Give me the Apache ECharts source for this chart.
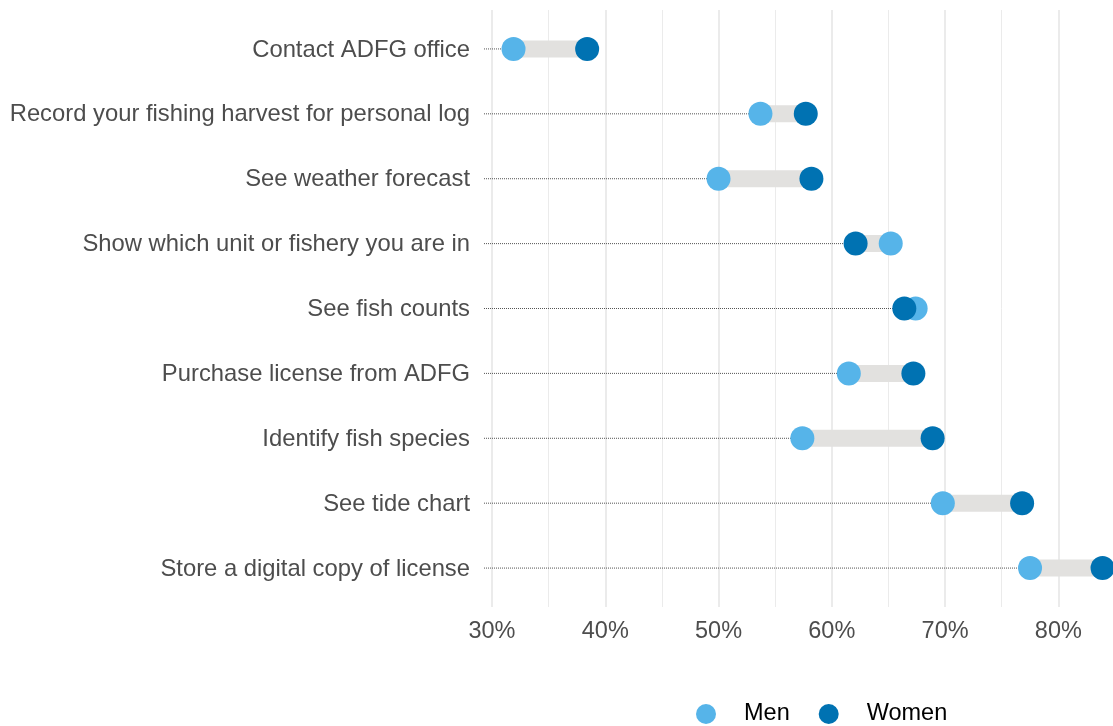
<!DOCTYPE html>
<html>
<head>
<meta charset="utf-8">
<title>App feature interest by gender</title>
<script src="https://cdn.jsdelivr.net/npm/echarts@6/dist/echarts.min.js"></script>
<style>
  html, body { margin: 0; padding: 0; background: #ffffff; }
  #chart { width: 1113px; height: 726px; }
</style>
</head>
<body>
<div id="chart"></div>
<script>
// Features, top to bottom
const categories = [
  'Contact ADFG office',
  'Record your fishing harvest for personal log',
  'See weather forecast',
  'Show which unit or fishery you are in',
  'See fish counts',
  'Purchase license from ADFG',
  'Identify fish species',
  'See tide chart',
  'Store a digital copy of license'
];

// Share of respondents interested in each feature (%)
const men   = [31.9, 53.7, 50.0, 65.2, 67.4, 61.5, 57.4, 69.8, 77.5];
const women = [38.4, 57.7, 58.2, 62.1, 66.4, 67.2, 68.9, 76.8, 83.9];

// X axis tick labels
const xTicks = [30, 40, 50, 60, 70, 80];

const MEN_COLOR = '#56B4E9';
const WOMEN_COLOR = '#0072B2';
const TEXT_GREY = '#4d4d4d';
const FONT = '"Liberation Sans", Arial, sans-serif';

const X_MIN = 30;
const X_MAX = 85;
const rows = categories.map((c, i) => [i, men[i], women[i]]);

const chart = echarts.init(document.getElementById('chart'), null, { renderer: 'canvas' });

chart.setOption({
  animation: false,
  backgroundColor: '#ffffff',
  grid: { left: 492, right: -2, top: 10, bottom: 119, containLabel: false, outerBoundsMode: 'none' },
  xAxis: [
    {
      // thin lines every 5%
      type: 'value',
      min: X_MIN,
      max: X_MAX,
      interval: 5,
      position: 'bottom',
      axisLine: { show: false },
      axisTick: { show: false },
      axisLabel: { show: false },
      splitLine: { show: true, lineStyle: { color: '#ebebeb', width: 1 } }
    },
    {
      // labelled lines every 10%
      type: 'value',
      min: X_MIN,
      max: X_MAX,
      interval: 10,
      position: 'bottom',
      offset: 0,
      axisLine: { show: false },
      axisTick: { show: false },
      axisLabel: {
        margin: 13,
        color: TEXT_GREY,
        fontSize: 23.5,
        fontFamily: FONT,
        formatter: v => (xTicks.indexOf(v) >= 0 ? v + '%' : '')
      },
      splitLine: { show: true, lineStyle: { color: '#ebebeb', width: 2 } }
    }
  ],
  yAxis: {
    type: 'value',
    min: -0.6,
    max: 8.6,
    inverse: true,
    show: false,
    splitLine: { show: false }
  },
  legend: {
    left: 696,
    top: 702,
    padding: 0,
    itemWidth: 20,
    itemHeight: 20,
    itemGap: 29,
    icon: 'circle',
    textStyle: { color: '#000000', fontSize: 23.5, fontFamily: FONT, padding: [0, 0, 0, 23] },
    data: ['Men', 'Women']
  },
  series: [
    {
      // Row label, dotted leader and grey span between the two groups
      type: 'custom',
      silent: true,
      clip: false,
      z: 1,
      xAxisIndex: 1,
      data: rows,
      encode: { x: [1, 2], y: 0 },
      renderItem: (params, api) => {
        const i = api.value(0);
        const a = api.value(1);
        const b = api.value(2);
        const lo = Math.min(a, b);
        const hi = Math.max(a, b);
        const base = api.coord([X_MIN, i]);
        const pLo = api.coord([lo, i]);
        const pHi = api.coord([hi, i]);
        const barH = 17;
        return {
          type: 'group',
          children: [
            {
              type: 'line',
              shape: { x1: base[0] - 8, y1: base[1], x2: pLo[0], y2: pLo[1] },
              style: { stroke: '#555555', lineWidth: 1, lineDash: [1, 1] }
            },
            {
              type: 'rect',
              shape: { x: pLo[0], y: pLo[1] - barH / 2, width: pHi[0] - pLo[0], height: barH },
              style: { fill: '#e2e1df' }
            },
            {
              type: 'text',
              x: base[0] - 22,
              y: base[1] + 1,
              style: {
                text: categories[i],
                fill: TEXT_GREY,
                font: '23.8px ' + FONT,
                align: 'right',
                verticalAlign: 'middle'
              }
            }
          ]
        };
      }
    },
    {
      name: 'Men',
      type: 'scatter',
      xAxisIndex: 1,
      symbol: 'circle',
      symbolSize: 24,
      z: 2,
      itemStyle: { color: MEN_COLOR, opacity: 1 },
      data: men.map((v, i) => [v, i])
    },
    {
      name: 'Women',
      type: 'scatter',
      xAxisIndex: 1,
      symbol: 'circle',
      symbolSize: 24,
      z: 3,
      itemStyle: { color: WOMEN_COLOR, opacity: 1 },
      data: women.map((v, i) => [v, i])
    }
  ]
});
</script>
</body>
</html>
